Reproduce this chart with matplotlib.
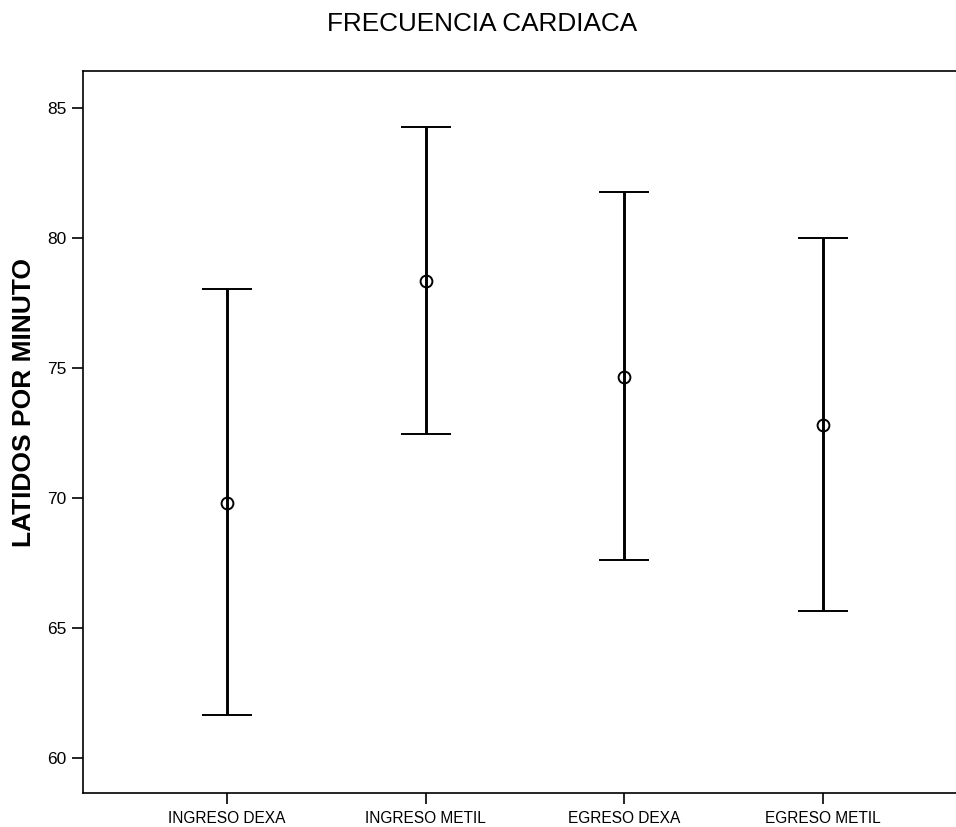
import matplotlib
matplotlib.use("Agg")
import matplotlib.pyplot as plt
import numpy as np

plt.rcParams['font.family'] = ['Liberation Sans', 'DejaVu Sans']

grupos = ["INGRESO DEXA", "INGRESO METIL", "EGRESO DEXA", "EGRESO METIL"]
media = [69.83, 78.33, 74.66, 72.80]
limite_inf = [61.65, 72.46, 67.62, 65.64]
limite_sup = [78.03, 84.27, 81.78, 80.00]

x = np.arange(1, len(grupos) + 1)
media = np.array(media)
err = [media - np.array(limite_inf), np.array(limite_sup) - media]

fig = plt.figure(figsize=(9.56, 8.27), dpi=100)
ax = fig.add_axes([0.0868, 0.0411, 0.9247, 0.873])

ax.errorbar(x, media, yerr=err, fmt='o', color='black', ecolor='black',
            elinewidth=2.1, capsize=18, capthick=2.8,
            markersize=8.5, markerfacecolor='none', markeredgewidth=1.4)

ax.set_xlim(0.275, 4.725)
ax.set_ylim(58.66, 86.42)
ax.set_yticks([60, 65, 70, 75, 80, 85])
ax.set_xticks(x)
ax.set_xticklabels(grupos)

ax.tick_params(axis='both', direction='out', length=8, width=1.2, colors='black',
               labelsize=11.2, pad=5)
ax.tick_params(axis='y', labelsize=12.5, pad=4)
for s in ax.spines.values():
    s.set_linewidth(1.2)

# etiqueta del eje y colocada a mano para que no se corte
fig.text(0.025, 0.513, "LATIDOS POR MINUTO", rotation=90, ha='center', va='center',
         fontsize=19, fontweight='bold')
fig.text(0.504, 0.9705, "FRECUENCIA CARDIACA", ha='center', va='center', fontsize=18.8)

fig.savefig("out.png", dpi=100)
